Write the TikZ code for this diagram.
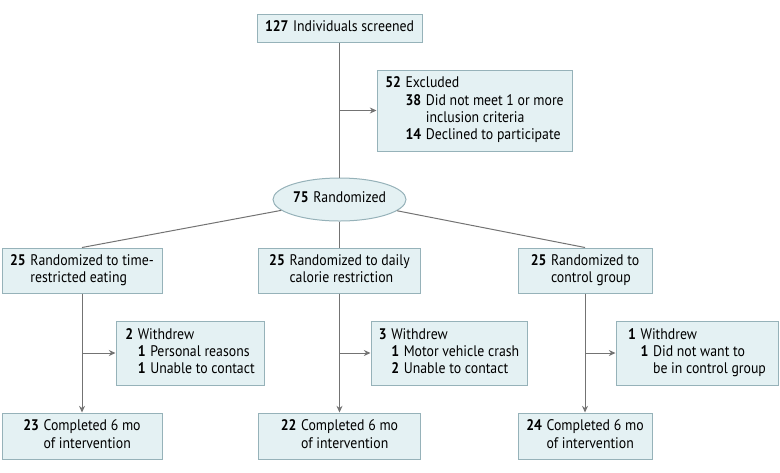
\documentclass[tikz,border=0pt]{standalone}
\usepackage{fontspec}
\setmainfont{PT Sans}[FakeStretch=0.9]
\usetikzlibrary{arrows.meta,shapes.geometric}
\definecolor{boxfill}{RGB}{228,241,243}
\definecolor{boxedge}{RGB}{150,178,185}
\definecolor{linegrey}{RGB}{115,115,115}
\tikzset{every picture/.style={line width=0.75pt}}
\tikzset{
  flowbox/.style={draw=boxedge, fill=boxfill, inner sep=0pt, align=center, font=\fontsize{11.5}{13}\selectfont},
  flowline/.style={draw=linegrey},
  flowarrow/.style={draw=linegrey, -{Stealth[length=5pt,width=4.5pt]}}
}
\newcommand{\countrow}[2]{\begin{tabular}{@{}l@{\hspace{3.5pt}}l@{}}\textbf{#1} & #2\end{tabular}}

\begin{document}
\begin{tikzpicture}[x=0.75pt,y=0.75pt,yscale=-1,xscale=1]
\useasboundingbox (0,0) rectangle (780,472); %diagram of 780 x 472

% Text Node: screening
\node [flowbox, minimum width=123.75pt, minimum height=21pt] (screened) at (339.5,28) {\countrow{127}{Individuals screened}};
% Text Node: excluded
\node [flowbox, minimum width=146.25pt, minimum height=60.75pt] (excluded) at (474.5,110.5) {\begin{tabular}{@{}l@{\hspace{3.5pt}}l@{\hspace{3.5pt}}l@{}}
\textbf{52} & \multicolumn{2}{@{}l@{}}{Excluded}\\
 & \textbf{38} & Did not meet 1 or more\\
 & & inclusion criteria\\
 & \textbf{14} & Declined to participate
\end{tabular}};
% Shape: Ellipse
\node [flowbox, ellipse, minimum width=99.75pt, minimum height=32.25pt] (rand) at (339.5,199.5) {\countrow{75}{Randomized}};

% Text Node: groups
\node [flowbox, minimum width=120pt, minimum height=33.75pt] (trf) at (82,270.5) {\countrow{25}{Randomized to time-\\ & restricted eating}};
\node [flowbox, minimum width=121.5pt, minimum height=33.75pt] (dcr) at (339.5,270.5) {\countrow{25}{Randomized to daily\\ & calorie restriction}};
\node [flowbox, minimum width=100.5pt, minimum height=33.75pt] (ctrl) at (585,270.5) {\countrow{25}{Randomized to\\ & control group}};

% Text Node: withdrawals
\node [flowbox, minimum width=111pt, minimum height=48pt] (trfout) at (190,353) {\begin{tabular}{@{}l@{\hspace{3.5pt}}l@{\hspace{3.5pt}}l@{}}
\textbf{2} & \multicolumn{2}{@{}l@{}}{Withdrew}\\
 & \textbf{1} & Personal reasons\\
 & \textbf{1} & Unable to contact
\end{tabular}};
\node [flowbox, minimum width=117pt, minimum height=48pt] (dcrout) at (449,353) {\begin{tabular}{@{}l@{\hspace{3.5pt}}l@{\hspace{3.5pt}}l@{}}
\textbf{3} & \multicolumn{2}{@{}l@{}}{Withdrew}\\
 & \textbf{1} & Motor vehicle crash\\
 & \textbf{2} & Unable to contact
\end{tabular}};
\node [flowbox, minimum width=121.5pt, minimum height=48pt] (ctrlout) at (697,353) {\begin{tabular}{@{}l@{\hspace{3.5pt}}l@{\hspace{3.5pt}}l@{}}
\textbf{1} & \multicolumn{2}{@{}l@{}}{Withdrew}\\
 & \textbf{1} & Did not want to\\
 & & be in control group
\end{tabular}};

% Text Node: completed
\node [flowbox, minimum width=120pt, minimum height=34.5pt] (trfdone) at (82,436) {\countrow{23}{Completed 6 mo\\ & of intervention}};
\node [flowbox, minimum width=121.5pt, minimum height=34.5pt] (dcrdone) at (339.5,436) {\countrow{22}{Completed 6 mo\\ & of intervention}};
\node [flowbox, minimum width=100.5pt, minimum height=34.5pt] (ctrldone) at (585,436) {\countrow{24}{Completed 6 mo\\ & of intervention}};

% Connectors
\draw [flowline] (screened) -- (rand);
\draw [flowarrow] (screened.south |- excluded.west) -- (excluded.west);
\draw [flowline] (rand) -- (trf.north);
\draw [flowline] (rand) -- (dcr.north);
\draw [flowline] (rand) -- (ctrl.north);
\draw [flowarrow] (trf) -- (trfdone);
\draw [flowarrow] (dcr) -- (dcrdone);
\draw [flowarrow] (ctrl) -- (ctrldone);
\draw [flowarrow] (trf.south |- trfout.west) -- (trfout.west);
\draw [flowarrow] (dcr.south |- dcrout.west) -- (dcrout.west);
\draw [flowarrow] (ctrl.south |- ctrlout.west) -- (ctrlout.west);

\end{tikzpicture}
\end{document}
